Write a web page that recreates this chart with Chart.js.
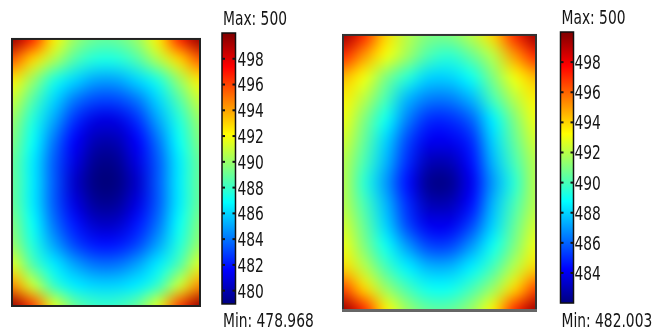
<!DOCTYPE html>
<html>
<head>
<meta charset="utf-8">
<script src="https://cdn.jsdelivr.net/npm/chart.js@4.4.0/dist/chart.umd.min.js"></script>
<style>
  html, body { margin: 0; padding: 0; background: #fff; }
  #wrap { position: relative; width: 652px; height: 334px; }
  .panel { position: absolute; top: 0; width: 326px; height: 334px; }
</style>
</head>
<body>
<div id="wrap">
  <div class="panel" style="left:0"><canvas id="heatLeft" width="326" height="334"></canvas></div>
  <div class="panel" style="left:326px"><canvas id="heatRight" width="326" height="334"></canvas></div>
</div>
<script>
// sample nodes across the plate, left edge -> right edge; rows top edge -> bottom edge
const columnLabels = ['0', '1', '2', '3', '4', '5', '6', '7', '8', '9'];

// left plot, min/max from the colour bar
const leftRange = [478.968, 500];
const leftTicks = [480, 482, 484, 486, 488, 490, 492, 494, 496, 498];
const leftGrid = [
  [499.5, 496.5, 492.5, 490, 489, 489, 490, 492.5, 496.5, 499.5],
  [495.5, 493, 490.5, 488.5, 487.5, 487.5, 488.5, 490.5, 493, 495.5],
  [492.5, 490, 487.5, 486, 485, 485, 486, 487.5, 490, 492.5],
  [491, 488.5, 486, 484, 483, 483, 484, 486, 488.5, 491],
  [490, 487.5, 485, 482.5, 481, 481, 482.5, 485, 487.5, 490],
  [489.5, 487, 484, 481.5, 480, 480, 481.5, 484, 487, 489.5],
  [489, 486.5, 483.5, 481, 479.3, 479.3, 481, 483.5, 486.5, 489],
  [489, 486.5, 483.5, 480.5, 479, 479, 480.5, 483.5, 486.5, 489],
  [489, 486.5, 483.5, 481, 479.5, 479.5, 481, 483.5, 486.5, 489],
  [489.5, 487, 484, 482, 480.5, 480.5, 482, 484, 487, 489.5],
  [490, 487.5, 485, 483, 482, 482, 483, 485, 487.5, 490],
  [491.5, 488.5, 486.5, 485, 484, 484, 485, 486.5, 488.5, 491.5],
  [494.5, 491, 488, 486.5, 486, 486, 486.5, 488, 491, 494.5],
  [499.5, 496, 491.5, 489, 488, 488, 489, 491.5, 496, 499.5]
];

// right plot
const rightRange = [482.003, 500];
const rightTicks = [484, 486, 488, 490, 492, 494, 496, 498];
const rightGrid = [
  [499.5, 497, 494, 492, 491, 491, 492, 494, 497, 499.5],
  [497, 495, 493, 491.5, 490, 489.5, 490.5, 492, 495, 497],
  [494.5, 493, 491, 489.5, 488, 488, 489, 491, 493, 494.5],
  [493.5, 492, 490, 487.5, 486.5, 486.5, 487.5, 490, 492, 493.5],
  [493, 491, 489, 486.5, 485, 485, 486, 488.5, 491, 493],
  [492.5, 490.5, 488, 485.5, 484, 484, 485, 488, 490.5, 492.5],
  [492, 490, 487.5, 485, 483, 483, 484.5, 487.5, 490, 492],
  [492, 489.5, 487, 484.5, 482.3, 482.3, 484, 487, 489.5, 492],
  [492, 490, 487.5, 485, 483, 483, 484.5, 487.5, 490, 492],
  [492.5, 490.5, 488, 485.5, 484, 484, 485.5, 488, 490.5, 492.5],
  [493, 491, 489, 487, 485.5, 485.5, 487, 489, 491, 493],
  [494, 492, 490, 488.5, 487.5, 487.5, 488.5, 490, 492, 494],
  [496.5, 494, 491.5, 490, 489, 489, 490, 491.5, 494, 496.5],
  [499.5, 497, 493.5, 491.5, 490.5, 490.5, 491.5, 493.5, 497, 499.5]
];

const FONT = '19px "DejaVu Sans Condensed", "DejaVu Sans", sans-serif';

// matlab style jet colormap
function jet(t) {
  t = Math.max(0, Math.min(1, t));
  const c = v => Math.round(255 * Math.max(0, Math.min(1, v)));
  return `rgb(${c(1.5 - Math.abs(4 * t - 3))},${c(1.5 - Math.abs(4 * t - 2))},${c(1.5 - Math.abs(4 * t - 1))})`;
}

function heatRect(chart) {
  const xs = chart.scales.x, ys = chart.scales.y;
  const top = ys.getPixelForValue(0), bottom = ys.getPixelForValue(chart.data.datasets.length - 1);
  return { left: xs.left, right: xs.right, top, bottom };
}

// narrow text, the plot labels use a condensed face
function narrowText(ctx, str, x, y, k) {
  ctx.save();
  ctx.translate(x, y);
  ctx.scale(k, 1);
  ctx.fillText(str, 0, 0);
  ctx.restore();
}

const heatDeco = {
  id: 'heatDeco',
  beforeDatasetsDraw(chart) {
    const h = heatRect(chart);
    chart.ctx.save();
    chart.ctx.beginPath();
    chart.ctx.rect(h.left, h.top, h.right - h.left, h.bottom - h.top);
    chart.ctx.clip();
  },
  afterDatasetsDraw(chart) {
    const ctx = chart.ctx;
    ctx.restore();
    // read node colours back and spread them smoothly between nodes
    const xs = chart.scales.x, ys = chart.scales.y;
    const h = heatRect(chart);
    const cols = chart.data.labels.length, rows = chart.data.datasets.length;
    const r = chart.currentDevicePixelRatio || 1;
    const small = document.createElement('canvas');
    small.width = cols; small.height = rows;
    const sc = small.getContext('2d');
    const img = sc.createImageData(cols, rows);
    for (let j = 0; j < rows; j++) {
      for (let i = 0; i < cols; i++) {
        const px = Math.min(h.right - 2, Math.max(h.left + 2, xs.getPixelForValue(i)));
        const py = Math.min(h.bottom - 2, Math.max(h.top + 2, ys.getPixelForValue(j)));
        const d = ctx.getImageData(Math.round(px * r), Math.round(py * r), 1, 1).data;
        const k = (j * cols + i) * 4;
        img.data[k] = d[0]; img.data[k + 1] = d[1]; img.data[k + 2] = d[2]; img.data[k + 3] = 255;
      }
    }
    sc.putImageData(img, 0, 0);
    const cw = (h.right - h.left) / (cols - 1), ch = (h.bottom - h.top) / (rows - 1);
    ctx.save();
    ctx.beginPath();
    ctx.rect(h.left, h.top, h.right - h.left, h.bottom - h.top);
    ctx.clip();
    ctx.imageSmoothingEnabled = true;
    ctx.imageSmoothingQuality = 'high';
    ctx.drawImage(small, h.left - cw / 2, h.top - ch / 2, cols * cw, rows * ch);
    ctx.restore();
  },
  afterDraw(chart, args, o) {
    const ctx = chart.ctx, cb = chart.scales.cb;
    const h = heatRect(chart);
    ctx.save();
    ctx.strokeStyle = o.frameColor;
    ctx.lineWidth = 2;
    ctx.strokeRect(h.left, h.top, h.right - h.left, h.bottom - h.top);
    if (o.bottomEdge) {
      ctx.strokeStyle = o.bottomEdge;
      ctx.lineWidth = 3;
      ctx.beginPath();
      ctx.moveTo(h.left - 1, h.bottom + 0.5);
      ctx.lineTo(h.right + 1, h.bottom + 0.5);
      ctx.stroke();
    }

    const bx = h.right + o.gap, bw = o.barWidth;
    const top = cb.getPixelForValue(o.range[1]), bot = cb.getPixelForValue(o.range[0]);
    const g = ctx.createLinearGradient(0, bot, 0, top);
    for (let i = 0; i <= 32; i++) g.addColorStop(i / 32, jet(i / 32));
    ctx.fillStyle = g;
    ctx.fillRect(bx, top, bw, bot - top);
    ctx.lineWidth = 1.5;
    ctx.strokeStyle = '#111';
    ctx.strokeRect(bx, top, bw, bot - top);

    ctx.fillStyle = '#151515';
    ctx.font = FONT;
    ctx.textAlign = 'left';
    const k = o.maxWidth / ctx.measureText('Max: 500').width;
    ctx.textBaseline = 'middle';
    cb.ticks.forEach(t => {
      const py = cb.getPixelForValue(t.value);
      ctx.fillRect(bx, py - 1, 3, 2);
      ctx.fillRect(bx + bw - 3, py - 1, 3, 2);
      narrowText(ctx, String(t.value), bx + bw + o.labelGap, py + 2, k);
    });
    ctx.textBaseline = 'alphabetic';
    narrowText(ctx, 'Max: ' + o.range[1], bx + 1, top - 8, k);
    narrowText(ctx, 'Min: ' + o.range[0], bx + 1, bot + 23.5, k);
    ctx.restore();
  }
};

function heatChart(id, grid, range, tickVals, deco) {
  const datasets = grid.map((row, j) => ({
    label: 'row ' + j,
    data: row.map(() => [j - 0.5, j + 0.5]),
    backgroundColor: row.map(v => jet((v - range[0]) / (range[1] - range[0]))),
    borderWidth: 0,
    barPercentage: 1,
    categoryPercentage: 1,
    grouped: false,
    xAxisID: 'x',
    yAxisID: 'y'
  }));
  return new Chart(document.getElementById(id), {
    type: 'bar',
    data: { labels: columnLabels, datasets },
    options: {
      responsive: false,
      animation: false,
      events: [],
      layout: { padding: deco.padding },
      plugins: {
        legend: { display: false },
        tooltip: { enabled: false },
        heatDeco: Object.assign({ range }, deco)
      },
      scales: {
        x: { display: false, offset: false },
        y: { display: false, min: deco.yMin, max: grid.length - 1, reverse: true },
        cb: {
          type: 'linear', display: false, position: 'right',
          min: deco.cbMin, max: range[1],
          afterBuildTicks: s => { s.ticks = tickVals.map(v => ({ value: v })); }
        }
      }
    },
    plugins: [heatDeco]
  });
}

heatChart('heatLeft', leftGrid, leftRange, leftTicks, {
  padding: { left: 12, right: 126, top: 33, bottom: 28 },
  yMin: -0.29, cbMin: 478.81,
  gap: 22, barWidth: 13.5, labelGap: 2, frameColor: '#222', maxWidth: 64
});

heatChart('heatRight', rightGrid, rightRange, rightTicks, {
  padding: { left: 17, right: 116, top: 32, bottom: 24 },
  yMin: -0.14, cbMin: 481.54,
  gap: 24.5, barWidth: 13, labelGap: 1, frameColor: '#333', bottomEdge: '#666', maxWidth: 64
});
</script>
</body>
</html>
